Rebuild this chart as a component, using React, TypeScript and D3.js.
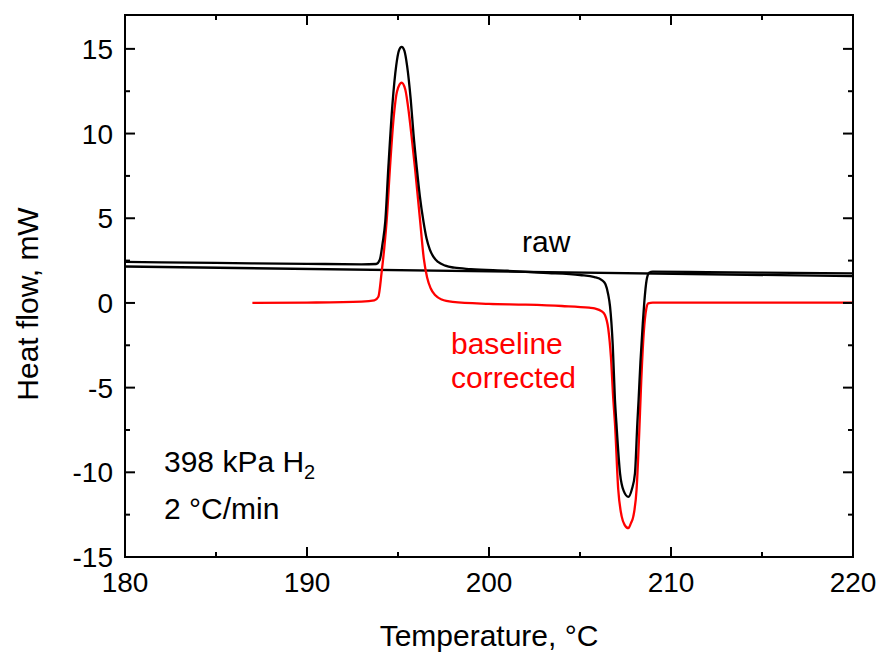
import React from "react";
import * as d3 from "d3";

const xTicks = [180, 190, 200, 210, 220];
const xMinor = [185, 195, 205, 215];
const yTicks = [-15, -10, -5, 0, 5, 10, 15];
const yMinor = [-12.5, -7.5, -2.5, 2.5, 7.5, 12.5];

// raw DSC signal [temperature °C, heat flow mW]
const rawCurve: [number, number][] = [
  [180, 2.42], [185, 2.36], [190, 2.31], [193, 2.28], [193.8, 2.3],
  [194.0, 2.55], [194.15, 3.5], [194.3, 4.8], [194.47, 8.0], [194.7, 11.8],
  [194.9, 14.0], [195.05, 14.9], [195.2, 15.12], [195.35, 14.9], [195.5, 14.0],
  [195.7, 12.0], [195.85, 10.0], [196.03, 8.0], [196.2, 6.3], [196.4, 4.8],
  [196.57, 3.8], [196.75, 3.15], [196.95, 2.72], [197.2, 2.42], [197.6, 2.2],
  [198.1, 2.08], [199, 2.0], [201, 1.9], [203, 1.78], [205, 1.65], [205.8, 1.53],
  [206.2, 1.35], [206.4, 1.1], [206.55, 0.5], [206.65, -0.2], [206.8, -2.5],
  [206.92, -5.7], [207.0, -7.1], [207.2, -10.06], [207.4, -11.1], [207.66, -11.45],
  [207.85, -11.0], [208.02, -10.06], [208.15, -7.1], [208.22, -5.7], [208.32, -3.5],
  [208.45, -1.2], [208.53, 0.0], [208.66, 1.35], [208.8, 1.78], [209.0, 1.85],
  [212, 1.82], [220, 1.75],
];

// straight baseline
const baselineCurve: [number, number][] = [
  [180, 2.15], [220, 1.58],
];

// baseline-corrected signal
const correctedCurve: [number, number][] = [
  [187, 0.0], [190, 0.02], [193, 0.08], [193.7, 0.15], [193.92, 0.37],
  [194.1, 1.8], [194.25, 3.3], [194.38, 4.9], [194.56, 8.0], [194.75, 10.8],
  [194.95, 12.5], [195.2, 13.0], [195.4, 12.6], [195.6, 11.2], [195.75, 9.8],
  [195.93, 8.0], [196.21, 4.9], [196.42, 2.6], [196.6, 1.5], [196.8, 0.85],
  [197.05, 0.45], [197.4, 0.2], [198, 0.06], [200, -0.05], [202, -0.1],
  [204, -0.18], [205.5, -0.28], [205.8, -0.32], [206.2, -0.5], [206.37, -0.71],
  [206.55, -1.5], [206.7, -3.2], [206.83, -5.7], [206.92, -7.1], [207.1, -11.0],
  [207.29, -12.6], [207.45, -13.1], [207.66, -13.3], [207.8, -13.0], [207.93, -12.6],
  [208.11, -11.0], [208.25, -7.8], [208.35, -5.0], [208.5, -1.8], [208.65, -0.3],
  [208.75, -0.02], [209.0, 0.02], [220, 0.02],
];

const W = 881;
const H = 654;
const left = 125, right = 853, top = 15, bottom = 557;
const FONT = "'Liberation Sans', Arial, sans-serif";

export default function App() {
  const x = d3.scaleLinear().domain([180, 220]).range([left, right]);
  const y = d3.scaleLinear().domain([-15, 17]).range([bottom, top]);
  const line = d3
    .line<[number, number]>()
    .x((d) => x(d[0]))
    .y((d) => y(d[1]))
    .curve(d3.curveMonotoneX);

  const major = 10, minor = 5;
  return (
    <svg
      width={W}
      height={H}
      style={{ position: "absolute", left: 0, top: 0, background: "#fff" }}
      fontFamily={FONT}
    >
      <defs>
        <clipPath id="plot">
          <rect x={left} y={top} width={right - left} height={bottom - top} />
        </clipPath>
      </defs>
      <g clipPath="url(#plot)" fill="none" strokeWidth={2.3} strokeLinejoin="round">
        <path d={line(baselineCurve) || ""} stroke="#000" />
        <path d={line(correctedCurve) || ""} stroke="#ff0000" />
        <path d={line(rawCurve) || ""} stroke="#000" />
      </g>
      {/* frame */}
      <rect x={left} y={top} width={right - left} height={bottom - top} fill="none" stroke="#000" strokeWidth={2} />
      {/* ticks */}
      <g stroke="#000" strokeWidth={2}>
        {xTicks.map((t) => (
          <g key={"xt" + t}>
            <line x1={x(t)} x2={x(t)} y1={bottom} y2={bottom - major} />
            <line x1={x(t)} x2={x(t)} y1={top} y2={top + major} />
          </g>
        ))}
        {xMinor.map((t) => (
          <g key={"xm" + t}>
            <line x1={x(t)} x2={x(t)} y1={bottom} y2={bottom - minor} />
            <line x1={x(t)} x2={x(t)} y1={top} y2={top + minor} />
          </g>
        ))}
        {yTicks.map((t) => (
          <g key={"yt" + t}>
            <line x1={left} x2={left + major} y1={y(t)} y2={y(t)} />
            <line x1={right} x2={right - major} y1={y(t)} y2={y(t)} />
          </g>
        ))}
        {yMinor.map((t) => (
          <g key={"ym" + t}>
            <line x1={left} x2={left + minor} y1={y(t)} y2={y(t)} />
            <line x1={right} x2={right - minor} y1={y(t)} y2={y(t)} />
          </g>
        ))}
      </g>
      {/* tick labels */}
      <g fontSize={28} fill="#000">
        {xTicks.map((t) => (
          <text key={"xl" + t} x={x(t)} y={592} textAnchor="middle">
            {String(t)}
          </text>
        ))}
        {yTicks.map((t) => (
          <text key={"yl" + t} x={113} y={y(t) + 10} textAnchor="end">
            {String(t)}
          </text>
        ))}
      </g>
      {/* axis titles */}
      <text x={489} y={646} textAnchor="middle" fontSize={30} fill="#000">
        Temperature, °C
      </text>
      <text
        transform={`translate(38,304) rotate(-90)`}
        textAnchor="middle"
        fontSize={30}
        fill="#000"
      >
        Heat flow, mW
      </text>
      {/* annotations */}
      <text x={522} y={252} fontSize={30} fill="#000">raw</text>
      <text x={451} y={354} fontSize={30} fill="#ff0000">baseline</text>
      <text x={451} y={388} fontSize={30} fill="#ff0000">corrected</text>
      <text x={164} y={472} fontSize={30} fill="#000">
        398 kPa H<tspan fontSize={20} dy={7}>2</tspan>
      </text>
      <text x={164} y={519} fontSize={30} fill="#000">2 °C/min</text>
    </svg>
  );
}
